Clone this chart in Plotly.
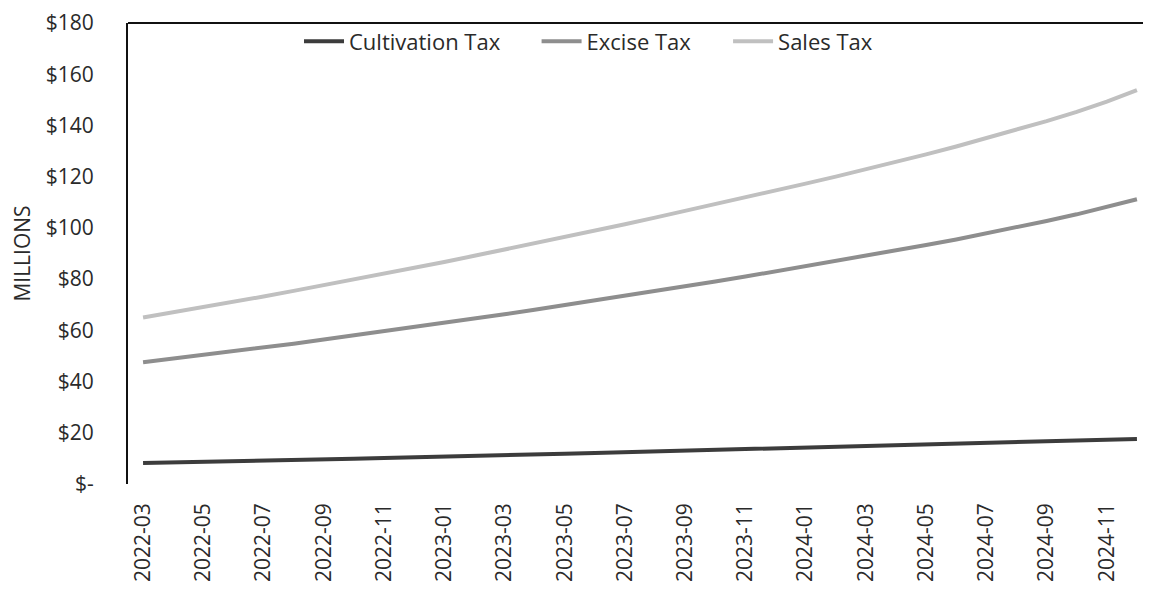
import plotly.graph_objects as go

months = [
    "2022-03", "2022-04", "2022-05", "2022-06", "2022-07", "2022-08", "2022-09", "2022-10",
    "2022-11", "2022-12", "2023-01", "2023-02", "2023-03", "2023-04", "2023-05", "2023-06",
    "2023-07", "2023-08", "2023-09", "2023-10", "2023-11", "2023-12", "2024-01", "2024-02",
    "2024-03", "2024-04", "2024-05", "2024-06", "2024-07", "2024-08", "2024-09", "2024-10",
    "2024-11", "2024-12",
]

# $ millions
cultivation_tax = [
    8.2, 8.4, 8.7, 8.9, 9.2, 9.4, 9.7, 9.9, 10.2, 10.4, 10.7, 11.0, 11.2, 11.5, 11.8, 12.1, 12.4,
    12.7, 13.0, 13.3, 13.6, 13.9, 14.2, 14.5, 14.8, 15.1, 15.4, 15.7, 16.0, 16.3, 16.6, 16.9, 17.2, 17.6,
]
excise_tax = [
    47.5, 48.9, 50.3, 51.8, 53.3, 54.8, 56.4, 58.0, 59.6, 61.2, 62.9, 64.6, 66.3, 68.0, 69.8, 71.6, 73.4,
    75.3, 77.2, 79.1, 81.0, 83.0, 85.0, 87.0, 89.0, 91.1, 93.3, 95.5, 97.8, 100.2, 102.7, 105.3, 108.1, 111.2,
]
sales_tax = [
    65.0, 67.0, 69.0, 71.1, 73.2, 75.4, 77.6, 79.8, 82.1, 84.4, 86.7, 89.1, 91.5, 93.9, 96.4, 98.9, 101.4,
    104.0, 106.6, 109.2, 111.9, 114.6, 117.3, 120.0, 122.8, 125.7, 128.7, 131.8, 135.0, 138.3, 141.7, 145.3, 149.3, 153.8,
]

y_ticks = [0, 20, 40, 60, 80, 100, 120, 140, 160, 180]
y_labels = ["$-", "$20", "$40", "$60", "$80", "$100", "$120", "$140", "$160", "$180"]
x_ticks = months[::2]

FONT = "Open Sans"
TEXT = "#2a2a2a"

# name, values, colour, legend id, legend x (paper)
series = [
    ("Cultivation Tax", cultivation_tax, "#3c3c3c", "legend", 0.167),
    ("Excise Tax", excise_tax, "#8e8e8e", "legend2", 0.399),
    ("Sales Tax", sales_tax, "#c0c0c0", "legend3", 0.586),
]

fig = go.Figure()
legends = {}
for name, vals, color, leg, lx in series:
    fig.add_trace(go.Scatter(
        x=months, y=vals, name=name, mode="lines", legend=leg,
        line=dict(color=color, width=4),
    ))
    legends[leg] = dict(
        x=lx, xanchor="left", y=0.96, yanchor="middle", orientation="h",
        font=dict(size=22, color=TEXT), bgcolor="rgba(0,0,0,0)", itemwidth=40,
    )

fig.update_layout(
    width=1151, height=593,
    plot_bgcolor="white", paper_bgcolor="white",
    margin=dict(l=120, r=7, t=15, b=117),
    font=dict(family=FONT, size=19, color=TEXT),
    showlegend=True,
    xaxis=dict(
        type="category", range=[-0.5, len(months) - 0.5],
        tickmode="array", tickvals=x_ticks, ticktext=x_ticks,
        tickangle=-90, showgrid=False, showline=False, zeroline=False,
        ticks="", ticklabelstandoff=14, automargin=False,
        tickfont=dict(size=21, color=TEXT),
    ),
    yaxis=dict(
        range=[0, 180], tickmode="array", tickvals=y_ticks, ticktext=y_labels,
        showgrid=False, zeroline=False, showline=True, linecolor="#111111", linewidth=2,
        ticks="", ticklabelstandoff=28, automargin=False, ticklabeloverflow="allow",
        tickfont=dict(size=21, color=TEXT),
        title=dict(text="MILLIONS", font=dict(size=21, color=TEXT), standoff=18),
    ),
    shapes=[dict(
        type="line", xref="paper", yref="paper", x0=0, x1=1, y0=1, y1=1,
        line=dict(color="#111111", width=2),
    )],
    **legends,
)

fig.write_html("out.html")
